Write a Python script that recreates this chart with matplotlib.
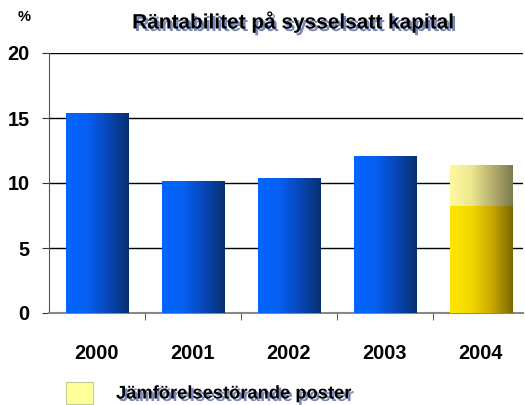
import numpy as np
import matplotlib.pyplot as plt
import matplotlib.patheffects as pe
from matplotlib.colors import LinearSegmentedColormap
from matplotlib.patches import Rectangle

plt.rcParams['font.family'] = ['Liberation Sans', 'DejaVu Sans']

years = ['2000', '2001', '2002', '2003', '2004']
values = [15.4, 10.15, 10.4, 12.1, 8.2]
comparison_disturbing = [0, 0, 0, 0, 3.2]
legend_label = 'Jämförelsestörande poster'

blue = LinearSegmentedColormap.from_list('blue', ['#0066ff', '#0560f2', '#0848b8', '#062f70'])
yellow = LinearSegmentedColormap.from_list('yellow', ['#ffe600', '#f2d800', '#c9a800', '#7a6800'])
light = LinearSegmentedColormap.from_list('light', ['#fffaa0', '#ece890', '#b8b070', '#7a7a50'])

shadow = [pe.SimplePatchShadow(offset=(1.8, -1.8), shadow_rgbFace='#6a7cb0', alpha=0.9), pe.Normal()]

fig = plt.figure(figsize=(5.25, 4.05), dpi=100)
ax = fig.add_axes([49 / 525, 92 / 405, 474 / 525, 260 / 405])

grad = np.linspace(0, 1, 256).reshape(1, -1)
width = 0.65


def grad_bar(x, bottom, height, cmap):
    if height <= 0:
        return
    x0 = x - width / 2
    im = ax.imshow(grad, cmap=cmap, aspect='auto', extent=[x0, x0 + width, bottom, bottom + height],
                   zorder=3, interpolation='bilinear')
    r = Rectangle((x0, bottom), width, height, transform=ax.transData, fill=False, lw=0)
    ax.add_patch(r)
    im.set_clip_path(r)


for i, (v, c) in enumerate(zip(values, comparison_disturbing)):
    cm = yellow if c > 0 else blue
    grad_bar(i, 0, v, cm)
    grad_bar(i, v, c, light)

ax.set_xlim(-0.5, 4.44)
ax.set_ylim(0, 20)
ax.set_yticks([0, 5, 10, 15, 20])
ax.set_xticks(range(len(years)))
ax.set_xticklabels(years)
ax.set_xticks(np.arange(0.5, 4, 1), minor=True)
ax.tick_params(axis='x', which='major', length=0, pad=22)
ax.tick_params(axis='x', which='minor', length=5, color='#333333', direction='out')
ax.tick_params(axis='y', length=5, direction='out', color='#333333', pad=9)
for lab in ax.get_xticklabels() + ax.get_yticklabels():
    lab.set_fontsize(14.3)
    lab.set_fontweight('bold')

ax.yaxis.grid(True, color='black', lw=1.0)
ax.set_axisbelow(True)
for s in ['top', 'right']:
    ax.spines[s].set_visible(False)
ax.spines['left'].set_color('#555555')
ax.spines['bottom'].set_color('#888888')
ax.spines['bottom'].set_linewidth(1.5)

fig.text(18 / 525, 1 - 17 / 405, '%', fontsize=10.5, fontweight='bold', ha='left', va='center')
fig.text(294 / 525, 1 - 22 / 405, 'Räntabilitet på sysselsatt kapital', fontsize=15,
         fontweight='bold', ha='center', va='center', path_effects=shadow)

fig.patches.append(Rectangle((66 / 525, 1 - 404 / 405), 27 / 525, 22 / 405, transform=fig.transFigure,
                             facecolor='#ffff99', edgecolor='#c8c890', lw=0.8))
fig.text(116 / 525, 1 - 394 / 405, legend_label, fontsize=13.2, fontweight='bold',
         ha='left', va='center', path_effects=shadow)

fig.savefig('out.png', dpi=100)
